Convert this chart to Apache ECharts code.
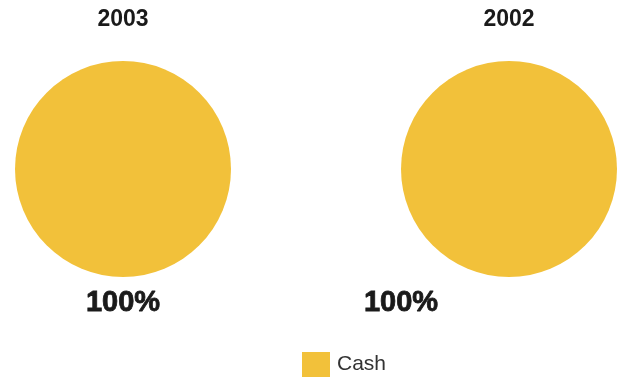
<!DOCTYPE html>
<html>
<head>
<meta charset="utf-8">
<script src="https://cdn.jsdelivr.net/npm/echarts@6/dist/echarts.min.js"></script>
<style>html,body{margin:0;padding:0;background:#fff}#c{width:619px;height:380px}</style>
</head>
<body>
<div id="c"></div>
<script>
const years = ['2003', '2002'];
const categories = ['Cash'];
const values2003 = [100];
const values2002 = [100];
const labelOffsets = [[0, 134], [-108, 134]];

const chart = echarts.init(document.getElementById('c'), null, {renderer: 'canvas'});
const font = '"Liberation Sans", Arial, Helvetica, sans-serif';
const color = '#F2C13A';
const centers = [[123, 169], [509, 169]];
const seriesVals = [values2003, values2002];

chart.setOption({
  animation: false,
  color: [color],
  graphic: years.map((y, i) => ({
    type: 'text',
    x: centers[i][0],
    y: 20,
    style: {
      text: y,
      textAlign: 'center',
      textVerticalAlign: 'middle',
      font: 'bold 23px ' + font,
      fill: '#1a1a1a'
    }
  })),
  legend: {
    data: categories,
    left: 302,
    top: 352,
    padding: 0,
    icon: 'rect',
    itemWidth: 28,
    itemHeight: 25,
    itemGap: 8,
    textStyle: {fontFamily: font, fontSize: 21, color: '#333', padding: [6, 0, 0, 2]}
  },
  series: years.map((y, i) => ({
    type: 'pie',
    name: y,
    center: centers[i],
    radius: 108,
    silent: true,
    label: {
      show: true,
      position: 'center',
      offset: labelOffsets[i],
      formatter: p => Math.round(p.percent) + '%',
      fontFamily: font,
      fontSize: 29,
      fontWeight: 'bold',
      color: '#1a1a1a',
      textBorderColor: '#1a1a1a',
      textBorderWidth: 0.8
    },
    labelLine: {show: false},
    itemStyle: {borderWidth: 0},
    data: categories.map((c, k) => ({name: c, value: seriesVals[i][k]}))
  }))
});
</script>
</body>
</html>
